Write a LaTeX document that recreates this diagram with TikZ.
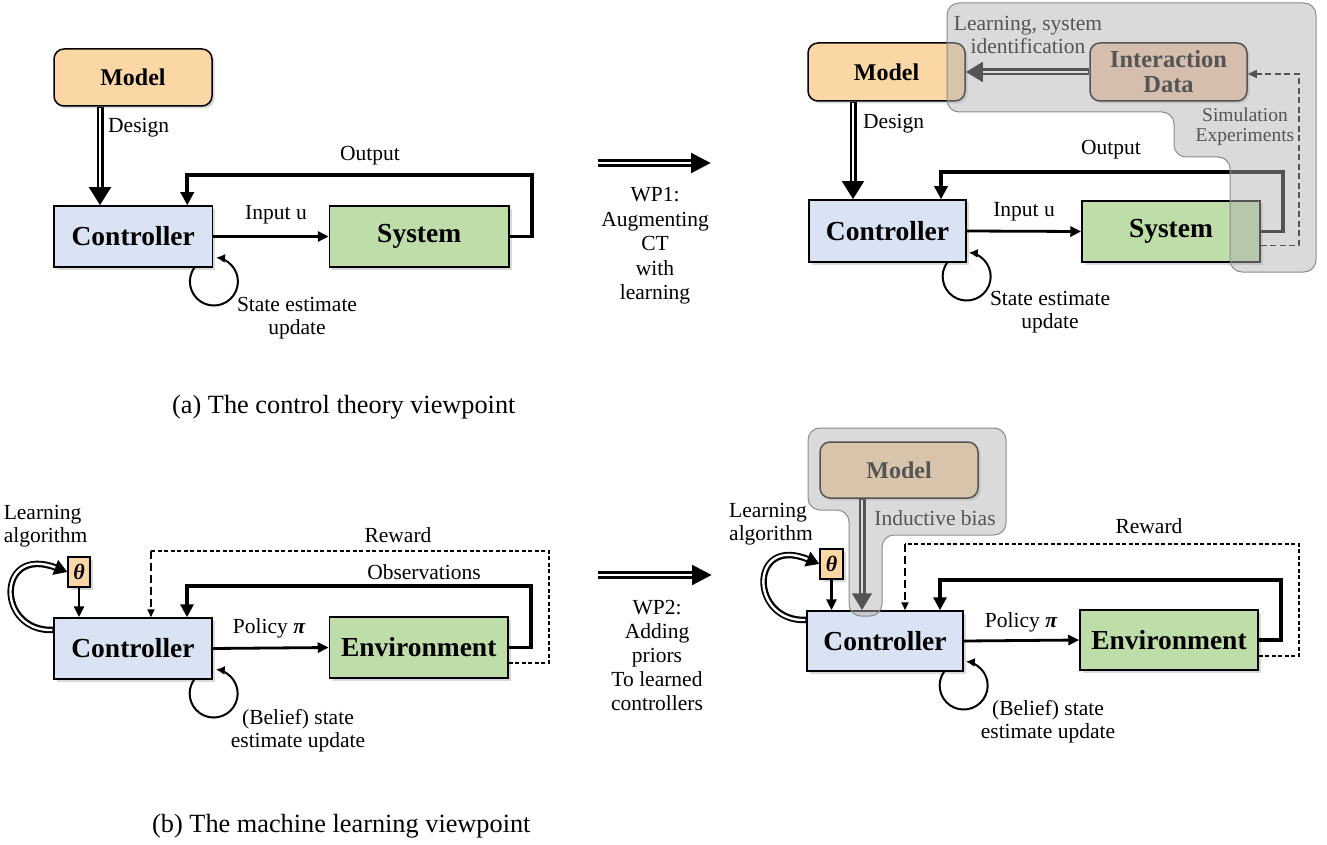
\documentclass[tikz,border=0pt]{standalone}
\usepackage{fontspec}
\setmainfont{Liberation Serif}
\usetikzlibrary{arrows.meta,shadows,calc}
\definecolor{morange}{RGB}{251,215,165}
\definecolor{mblue}{RGB}{218,227,243}
\definecolor{mgreen}{RGB}{190,221,168}
\definecolor{mpink}{RGB}{248,203,173}
\definecolor{ovfill}{RGB}{177,177,177}
\definecolor{ovdraw}{RGB}{140,140,140}
\begin{document}
\begin{tikzpicture}[x=1pt,y=-1pt,
  box/.style={draw=black, line width=1.5pt, inner sep=0pt,
    font=\bfseries\fontsize{27.5}{29}\selectfont,
    drop shadow={opacity=0.3, shadow xshift=2.5pt, shadow yshift=-2.5pt}},
  rbox/.style={box, rounded corners=10pt, font=\bfseries\fontsize{24}{25}\selectfont},
  lbl/.style={font=\fontsize{21.5}{23}\selectfont, align=center, inner sep=0pt},
  sarrow/.style={line width=2.8pt, -{Triangle[length=11pt,width=10pt]}},
  fb/.style={line width=3.6pt, line join=miter, -{Triangle[length=13pt,width=13pt]}},
  selfloop/.style={line width=2pt, -{Latex[length=9pt,width=9pt]}},
  dsh/.style={line width=1.1pt, dash pattern=on 4pt off 2.5pt},
  dshk/.style={line width=1.8pt, dash pattern=on 8pt off 4pt, -{Triangle[length=8pt,width=7pt]}},
  dblo/.style={line width=7pt, -{Triangle[length=18pt,width=21pt]}},
  dbli/.style={line width=2.6pt, white, shorten >=18pt, shorten <=0.8pt},
  lpo/.style={line width=6.5pt, -{Triangle[length=13pt,width=15pt]}},
  lpi/.style={line width=2.4pt, white, shorten >=13pt, shorten <=0.8pt},
  ov/.style={fill=ovfill, fill opacity=0.48, draw=ovdraw, line width=1pt, rounded corners=12pt},
  captxt/.style={font=\fontsize{26.3}{30}\selectfont, anchor=west, inner sep=0pt}
]
\useasboundingbox (0,0) rectangle (1327,845);

%% ---------------- (a) left ----------------
\node[rbox, fill=morange, minimum width=158pt, minimum height=57pt] (mA) at (133,77.5) {Model};
\node[box, fill=mblue, minimum width=158.5pt, minimum height=61pt] (cA) at (133.25,236.5) {Controller};
\node[box, fill=mgreen, minimum width=179.5pt, minimum height=61pt] (sA) at (419.25,236.5) {System};
\draw[dblo] ([xshift=-33pt]mA.south) -- ([xshift=-33pt]mA.south |- cA.north);
\draw[dbli] ([xshift=-33pt]mA.south) -- ([xshift=-33pt]mA.south |- cA.north);
\node[lbl, anchor=west] (dsA) at (108,128) {Design};
\draw[sarrow] (cA.east) -- (sA.west);
\node[lbl] (inA) at (276,215) {Input u};
\coordinate (oA) at (532,175);
\draw[fb] (sA.east) -| (oA) -| ([xshift=54pt]cA.north);
\node[lbl] (otA) at (370,156) {Output};
\draw[selfloop] ([xshift=61pt]cA.south) arc[start angle=145, end angle=445, radius=24pt];
\node[lbl] (seA) at (297,318) {State estimate\\update};
\node[captxt] (capA) at (172,407) {(a) The control theory viewpoint};

%% ---------------- WP1 ----------------
\coordinate (w1a) at (598,163);
\coordinate (w1b) at (711,163);
\draw[line width=7.5pt, -{Triangle[length=20pt,width=19pt]}] (w1a) -- (w1b);
\draw[line width=2.6pt, white, shorten >=20pt] (w1a) -- (w1b);
\node[lbl, font=\fontsize{21.5}{24.5}\selectfont] (wp1) at (655,246) {WP1:\\Augmenting\\CT\\with\\learning};

%% ---------------- (a) right ----------------
\node[rbox, fill=morange, minimum width=157pt, minimum height=58pt] (mB) at (886.5,72) {Model};
\node[rbox, fill=mpink, minimum width=157pt, minimum height=58pt, align=center,
  font=\bfseries\fontsize{24.5}{25}\selectfont] (iB) at (1168.5,72) {Interaction\\Data};
\node[box, fill=mblue, minimum width=157pt, minimum height=62pt] (cB) at (887.5,231) {Controller};
\node[box, fill=mgreen, minimum width=178pt, minimum height=61pt] (sB) at (1171,231.5) {System};
\draw[dblo] ([xshift=-33.5pt]mB.south) -- ([xshift=-33.5pt]mB.south |- cB.north);
\draw[dbli] ([xshift=-33.5pt]mB.south) -- ([xshift=-33.5pt]mB.south |- cB.north);
\node[lbl, anchor=west] (dsB) at (863,124) {Design};
\draw[line width=7pt, -{Triangle[length=17pt,width=19pt]}] (iB.west) -- (mB.east);
\draw[line width=2.6pt, white, shorten >=17pt, shorten <=0.8pt] (iB.west) -- (mB.east);
\node[lbl] (lsB) at (1028,35) {Learning, system\\identification};
\draw[sarrow] (cB.east) -- (sB.west);
\node[lbl] (inB) at (1024,212) {Input u};
\coordinate (oB) at (1283,172);
\draw[fb] (sB.east) -| (oB) -| ([xshift=53.5pt]cB.north);
\node[lbl] (otB) at (1111,150) {Output};
\coordinate (dB) at (1299,74);
\draw[line width=1.3pt, dash pattern=on 6pt off 3.5pt, -{Triangle[length=9pt,width=8pt]}]
  ([yshift=-14pt]sB.east) -| (dB) -- ([yshift=-2pt]iB.east);
\node[lbl, font=\fontsize{19.5}{20.5}\selectfont] (simB) at (1245,127) {Simulation\\Experiments};
\draw[selfloop] ([xshift=59.5pt]cB.south) arc[start angle=145, end angle=445, radius=24pt];
\node[lbl] (seB) at (1050,312) {State estimate\\update};
\draw[ov] (947,3) -- (1316,3) -- (1316,272) -- (1230,272) -- (1230,157) -- (1174,157) -- (1174,112) -- (947,112) -- cycle;

%% ---------------- (b) left ----------------
\node[box, fill=mblue, minimum width=158pt, minimum height=61pt] (cC) at (133,648.5) {Controller};
\node[box, fill=mgreen, minimum width=178.5pt, minimum height=61pt] (eC) at (418.75,647.5) {Environment};
\node[box, fill=morange, minimum width=22pt, minimum height=30pt, line width=1.2pt,
  font=\bfseries\itshape\fontsize{22}{24}\selectfont] (tC) at (79,572) {θ};
\draw[sarrow] (tC.south) -- (tC.south |- cC.north);
\draw[lpo] ([yshift=18.5pt]cC.west) .. controls (-4,632) and (-4,545) .. (tC.west);
\draw[lpi] ([yshift=18.5pt]cC.west) .. controls (-4,632) and (-4,545) .. (tC.west);
\node[lbl, align=left, anchor=west] (laC) at (3.6,526.5) {Learning\\algorithm};
\draw[sarrow] (cC.east) -- (eC.west);
\node[lbl] (poC) at (269,628) {Policy {\bfseries\itshape π}};
\coordinate (obC) at (531,586);
\draw[fb] (eC.east) -| (obC) -| ([xshift=54pt]cC.north);
\node[lbl] (obsC) at (424,572) {Observations};
\coordinate (rwC) at (549,551);
\coordinate (rwC2) at (151,551);
\draw[dsh] ([yshift=-15.5pt]eC.east) -| (rwC) -- (rwC2);
\draw[dshk] (rwC2) -- (rwC2 |- cC.north);
\node[lbl] (rwlC) at (398,535) {Reward};
\draw[selfloop] ([xshift=61pt]cC.south) arc[start angle=145, end angle=445, radius=24pt];
\node[lbl] (seC) at (298,731) {(Belief) state\\estimate update};
\node[captxt] (capB) at (152,826) {(b) The machine learning viewpoint};

%% ---------------- WP2 ----------------
\coordinate (w2a) at (598,575);
\coordinate (w2b) at (712,575);
\draw[line width=7.5pt, -{Triangle[length=20pt,width=19pt]}] (w2a) -- (w2b);
\draw[line width=2.6pt, white, shorten >=20pt] (w2a) -- (w2b);
\node[lbl, font=\fontsize{21.5}{24}\selectfont] (wp2) at (657,655) {WP2:\\Adding\\priors\\To learned\\controllers};

%% ---------------- (b) right ----------------
\node[rbox, fill=morange, minimum width=158pt, minimum height=56pt] (mD) at (899,470) {Model};
\node[box, fill=mblue, minimum width=156pt, minimum height=60pt] (cD) at (885,641) {Controller};
\node[box, fill=mgreen, minimum width=178pt, minimum height=60pt] (eD) at (1169,640) {Environment};
\node[box, fill=morange, minimum width=23pt, minimum height=30pt, line width=1.2pt,
  font=\bfseries\itshape\fontsize{22}{24}\selectfont] (tD) at (831.5,564) {θ};
\draw[sarrow] (tD.south) -- (tD.south |- cD.north);
\draw[lpo] ([yshift=21pt]cD.west) .. controls (749,622) and (749,535) .. (tD.west);
\draw[lpi] ([yshift=21pt]cD.west) .. controls (749,622) and (749,535) .. (tD.west);
\node[lbl, align=left, anchor=west] (laD) at (729,524) {Learning\\algorithm};
\draw[line width=7pt, -{Triangle[length=17pt,width=19pt]}] ([xshift=-37pt]mD.south) -- ([xshift=-37pt]mD.south |- cD.north);
\draw[line width=2.6pt, white, shorten >=17pt, shorten <=0.8pt] ([xshift=-37pt]mD.south) -- ([xshift=-37pt]mD.south |- cD.north);
\node[lbl] (ibD) at (935,518) {Inductive bias};
\draw[sarrow] (cD.east) -- (eD.west);
\node[lbl] (poD) at (1021,622) {Policy {\bfseries\itshape π}};
\coordinate (obD) at (1281,580);
\draw[fb] (eD.east) -| (obD) -| ([xshift=55pt]cD.north);
\coordinate (rwD) at (1299,544);
\coordinate (rwD2) at (905,544);
\draw[dsh] ([yshift=-16pt]eD.east) -| (rwD) -- (rwD2);
\draw[dshk] (rwD2) -- (rwD2 |- cD.north);
\node[lbl] (rwlD) at (1149,526) {Reward};
\draw[selfloop] ([xshift=59pt]cD.south) arc[start angle=145, end angle=445, radius=24pt];
\node[lbl] (seD) at (1048,722) {(Belief) state\\estimate update};
\draw[ov] (808,428) -- (1006,428) -- (1006,535) -- (882,535) -- (882,616) -- (849,616) -- (849,510) -- (808,510) -- cycle;
\end{tikzpicture}
\end{document}
